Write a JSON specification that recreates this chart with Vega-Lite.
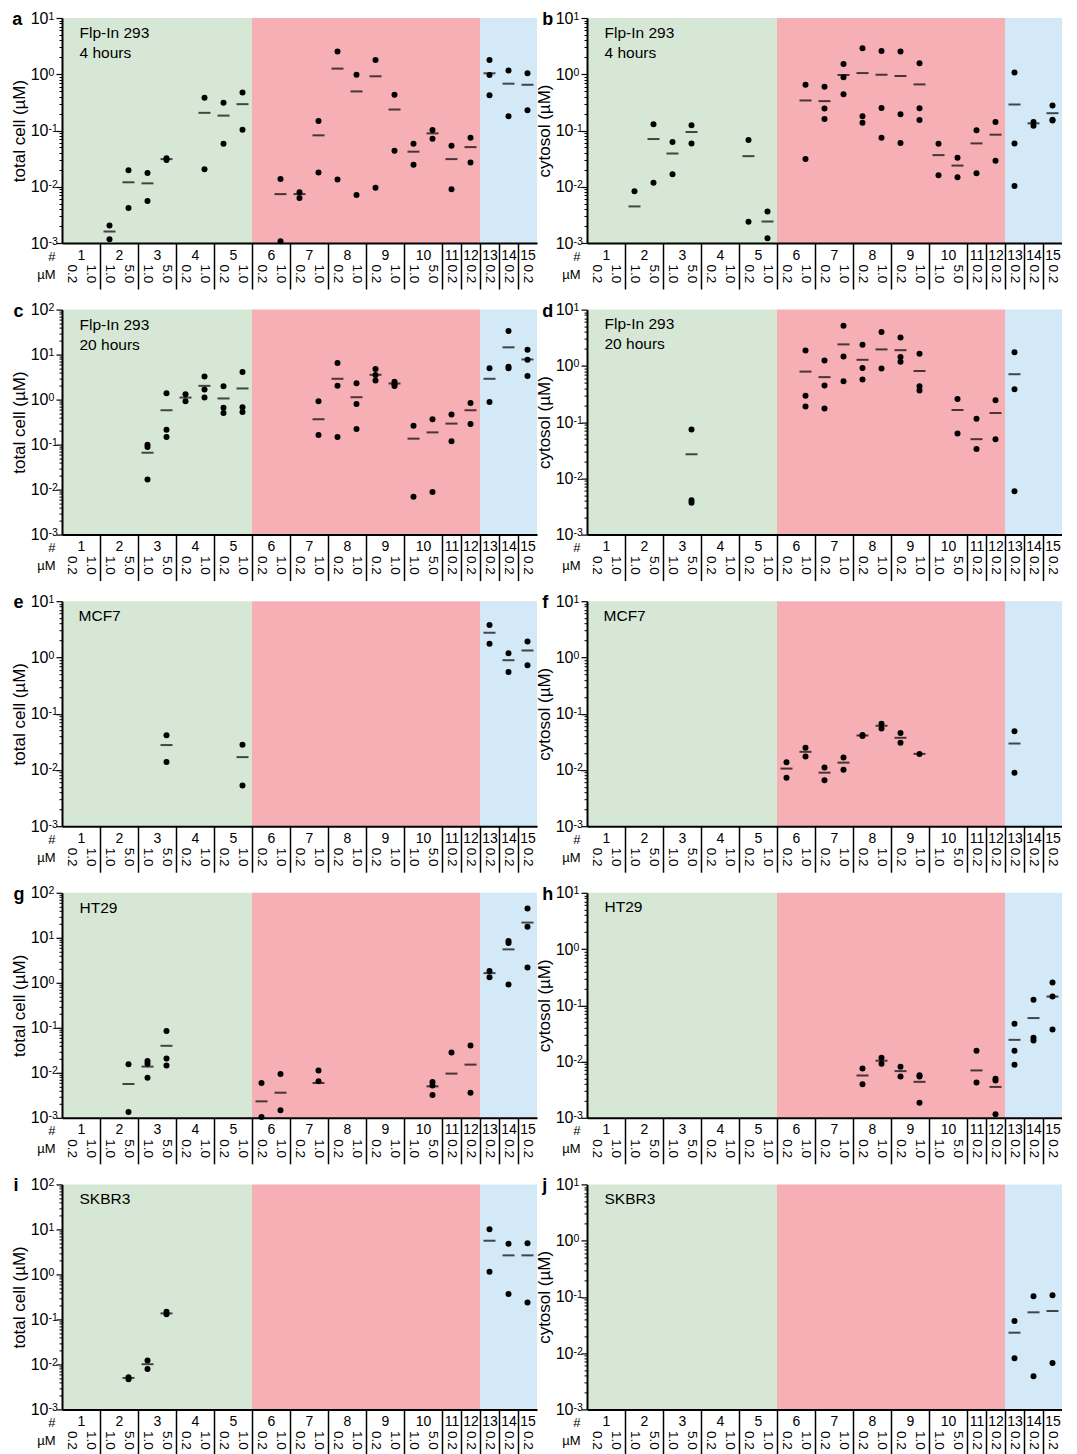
{
"$schema": "https://vega.github.io/schema/vega-lite/v6.json",
"padding": {"left": 10, "top": 10, "right": 0, "bottom": 0},
"config": {"font": "Liberation Sans", "view": {"stroke": null}},
"columns": 2,
"bounds": "flush",
"spacing": {"row": 66.6, "column": 50},
"datasets": {
"bg": [{"x0": -0.5, "x1": 9.5, "g": "A"}, {"x0": 9.5, "x1": 21.5, "g": "B"}, {"x0": 21.5, "x1": 24.5, "g": "C"}],
"dots": [
{"p":"a","s":2,"v":0.00204},{"p":"a","s":2,"v":0.00117},{"p":"a","s":3,"v":0.0197},{"p":"a","s":3,"v":0.0042},{"p":"a","s":4,"v":0.0176},{"p":"a","s":4,"v":0.0056},{"p":"a","s":5,"v":0.032},{"p":"a","s":5,"v":0.030},{"p":"a","s":7,"v":0.381},{"p":"a","s":7,"v":0.0205},{"p":"a","s":8,"v":0.31},{"p":"a","s":8,"v":0.058},{"p":"a","s":9,"v":0.475},{"p":"a","s":9,"v":0.1035},{"p":"a","s":11,"v":0.0138},{"p":"a","s":11,"v":0.00107},{"p":"a","s":12,"v":0.008},{"p":"a","s":12,"v":0.0063},{"p":"a","s":13,"v":0.148},{"p":"a","s":13,"v":0.018},{"p":"a","s":14,"v":2.54},{"p":"a","s":14,"v":0.0134},{"p":"a","s":15,"v":0.98},{"p":"a","s":15,"v":0.0071},{"p":"a","s":16,"v":1.8},{"p":"a","s":16,"v":0.0096},{"p":"a","s":17,"v":0.43},{"p":"a","s":17,"v":0.0436},{"p":"a","s":18,"v":0.058},{"p":"a","s":18,"v":0.0245},{"p":"a","s":19,"v":0.102},{"p":"a","s":19,"v":0.0714},{"p":"a","s":20,"v":0.0536},{"p":"a","s":20,"v":0.009},{"p":"a","s":21,"v":0.0745},{"p":"a","s":21,"v":0.027},{"p":"a","s":22,"v":1.8},{"p":"a","s":22,"v":0.97},{"p":"a","s":22,"v":0.425},{"p":"a","s":23,"v":1.16},{"p":"a","s":23,"v":0.179},{"p":"a","s":24,"v":1.04},{"p":"a","s":24,"v":0.23},
{"p":"b","s":2,"v":0.0083},{"p":"b","s":3,"v":0.129},{"p":"b","s":3,"v":0.0118},{"p":"b","s":4,"v":0.0622},{"p":"b","s":4,"v":0.0167},{"p":"b","s":5,"v":0.124},{"p":"b","s":5,"v":0.059},{"p":"b","s":8,"v":0.0676},{"p":"b","s":8,"v":0.00238},{"p":"b","s":9,"v":0.00363},{"p":"b","s":9,"v":0.00121},{"p":"b","s":11,"v":0.652},{"p":"b","s":11,"v":0.031},{"p":"b","s":12,"v":0.6},{"p":"b","s":12,"v":0.245},{"p":"b","s":12,"v":0.16},{"p":"b","s":13,"v":1.52},{"p":"b","s":13,"v":0.88},{"p":"b","s":13,"v":0.443},{"p":"b","s":14,"v":2.9},{"p":"b","s":14,"v":0.179},{"p":"b","s":14,"v":0.138},{"p":"b","s":15,"v":2.6},{"p":"b","s":15,"v":0.252},{"p":"b","s":15,"v":0.0745},{"p":"b","s":16,"v":2.54},{"p":"b","s":16,"v":0.195},{"p":"b","s":16,"v":0.0597},{"p":"b","s":17,"v":1.57},{"p":"b","s":17,"v":0.249},{"p":"b","s":17,"v":0.154},{"p":"b","s":18,"v":0.058},{"p":"b","s":18,"v":0.016},{"p":"b","s":19,"v":0.0327},{"p":"b","s":19,"v":0.0147},{"p":"b","s":20,"v":0.1007},{"p":"b","s":20,"v":0.0174},{"p":"b","s":21,"v":0.142},{"p":"b","s":21,"v":0.0289},{"p":"b","s":22,"v":1.07},{"p":"b","s":22,"v":0.059},{"p":"b","s":22,"v":0.0103},{"p":"b","s":23,"v":0.142},{"p":"b","s":23,"v":0.122},{"p":"b","s":24,"v":0.278},{"p":"b","s":24,"v":0.156},{"p":"b","s":24,"v":0.151},
{"p":"c","s":4,"v":0.0998},{"p":"c","s":4,"v":0.0885},{"p":"c","s":4,"v":0.0168},{"p":"c","s":5,"v":1.39},{"p":"c","s":5,"v":0.215},{"p":"c","s":5,"v":0.148},{"p":"c","s":6,"v":1.32},{"p":"c","s":6,"v":0.92},{"p":"c","s":7,"v":3.27},{"p":"c","s":7,"v":1.67},{"p":"c","s":7,"v":1.11},{"p":"c","s":8,"v":1.99},{"p":"c","s":8,"v":0.655},{"p":"c","s":8,"v":0.506},{"p":"c","s":9,"v":4.08},{"p":"c","s":9,"v":0.677},{"p":"c","s":9,"v":0.533},{"p":"c","s":13,"v":0.92},{"p":"c","s":13,"v":0.164},{"p":"c","s":14,"v":6.47},{"p":"c","s":14,"v":2.02},{"p":"c","s":14,"v":0.148},{"p":"c","s":15,"v":2.32},{"p":"c","s":15,"v":0.8},{"p":"c","s":15,"v":0.223},{"p":"c","s":16,"v":4.76},{"p":"c","s":16,"v":3.5},{"p":"c","s":16,"v":2.66},{"p":"c","s":17,"v":2.5},{"p":"c","s":17,"v":2.2},{"p":"c","s":17,"v":2.0},{"p":"c","s":18,"v":0.264},{"p":"c","s":18,"v":0.0069},{"p":"c","s":19,"v":0.366},{"p":"c","s":19,"v":0.0088},{"p":"c","s":20,"v":0.465},{"p":"c","s":20,"v":0.118},{"p":"c","s":21,"v":0.845},{"p":"c","s":21,"v":0.288},{"p":"c","s":22,"v":5.0},{"p":"c","s":22,"v":0.89},{"p":"c","s":23,"v":33.5},{"p":"c","s":23,"v":5.37},{"p":"c","s":23,"v":5.0},{"p":"c","s":24,"v":12.8},{"p":"c","s":24,"v":7.7},{"p":"c","s":24,"v":3.33},
{"p":"d","s":5,"v":0.074},{"p":"d","s":5,"v":0.0041},{"p":"d","s":5,"v":0.0037},{"p":"d","s":11,"v":1.88},{"p":"d","s":11,"v":0.295},{"p":"d","s":11,"v":0.19},{"p":"d","s":12,"v":1.24},{"p":"d","s":12,"v":0.446},{"p":"d","s":12,"v":0.175},{"p":"d","s":13,"v":5.18},{"p":"d","s":13,"v":1.47},{"p":"d","s":13,"v":0.532},{"p":"d","s":14,"v":2.37},{"p":"d","s":14,"v":0.92},{"p":"d","s":14,"v":0.57},{"p":"d","s":15,"v":3.99},{"p":"d","s":15,"v":0.895},{"p":"d","s":16,"v":3.2},{"p":"d","s":16,"v":1.43},{"p":"d","s":16,"v":1.18},{"p":"d","s":17,"v":1.64},{"p":"d","s":17,"v":0.434},{"p":"d","s":17,"v":0.363},{"p":"d","s":19,"v":0.258},{"p":"d","s":19,"v":0.0628},{"p":"d","s":20,"v":0.115},{"p":"d","s":20,"v":0.0334},{"p":"d","s":21,"v":0.244},{"p":"d","s":21,"v":0.0497},{"p":"d","s":22,"v":1.75},{"p":"d","s":22,"v":0.383},{"p":"d","s":22,"v":0.0059},
{"p":"e","s":5,"v":0.0412},{"p":"e","s":5,"v":0.0139},{"p":"e","s":9,"v":0.0281},{"p":"e","s":9,"v":0.0053},{"p":"e","s":22,"v":3.78},{"p":"e","s":22,"v":1.75},{"p":"e","s":23,"v":1.19},{"p":"e","s":23,"v":0.552},{"p":"e","s":24,"v":1.93},{"p":"e","s":24,"v":0.726},
{"p":"f","s":10,"v":0.0137},{"p":"f","s":10,"v":0.0073},{"p":"f","s":11,"v":0.0247},{"p":"f","s":11,"v":0.0173},{"p":"f","s":12,"v":0.011},{"p":"f","s":12,"v":0.00653},{"p":"f","s":13,"v":0.0166},{"p":"f","s":13,"v":0.0101},{"p":"f","s":14,"v":0.042},{"p":"f","s":14,"v":0.040},{"p":"f","s":15,"v":0.0663},{"p":"f","s":15,"v":0.0547},{"p":"f","s":16,"v":0.0452},{"p":"f","s":16,"v":0.0303},{"p":"f","s":17,"v":0.0193},{"p":"f","s":22,"v":0.049},{"p":"f","s":22,"v":0.00895},
{"p":"g","s":3,"v":0.0155},{"p":"g","s":3,"v":0.00134},{"p":"g","s":4,"v":0.0184},{"p":"g","s":4,"v":0.0158},{"p":"g","s":4,"v":0.0078},{"p":"g","s":5,"v":0.0845},{"p":"g","s":5,"v":0.0207},{"p":"g","s":5,"v":0.0145},{"p":"g","s":10,"v":0.0059},{"p":"g","s":10,"v":0.00104},{"p":"g","s":11,"v":0.0094},{"p":"g","s":11,"v":0.00148},{"p":"g","s":13,"v":0.0112},{"p":"g","s":13,"v":0.00647},{"p":"g","s":19,"v":0.00625},{"p":"g","s":19,"v":0.0052},{"p":"g","s":19,"v":0.0032},{"p":"g","s":20,"v":0.0283},{"p":"g","s":21,"v":0.0405},{"p":"g","s":21,"v":0.0036},{"p":"g","s":22,"v":1.84},{"p":"g","s":22,"v":1.33},{"p":"g","s":23,"v":8.5},{"p":"g","s":23,"v":7.66},{"p":"g","s":23,"v":0.914},{"p":"g","s":24,"v":44.7},{"p":"g","s":24,"v":17.7},{"p":"g","s":24,"v":2.19},
{"p":"h","s":14,"v":0.00755},{"p":"h","s":14,"v":0.00396},{"p":"h","s":15,"v":0.0117},{"p":"h","s":15,"v":0.0091},{"p":"h","s":16,"v":0.0081},{"p":"h","s":16,"v":0.00542},{"p":"h","s":17,"v":0.00573},{"p":"h","s":17,"v":0.0054},{"p":"h","s":17,"v":0.00186},{"p":"h","s":20,"v":0.0156},{"p":"h","s":20,"v":0.00424},{"p":"h","s":21,"v":0.00493},{"p":"h","s":21,"v":0.0046},{"p":"h","s":21,"v":0.00116},{"p":"h","s":22,"v":0.047},{"p":"h","s":22,"v":0.0156},{"p":"h","s":22,"v":0.00877},{"p":"h","s":23,"v":0.126},{"p":"h","s":23,"v":0.0264},{"p":"h","s":23,"v":0.0236},{"p":"h","s":24,"v":0.255},{"p":"h","s":24,"v":0.143},{"p":"h","s":24,"v":0.0372},
{"p":"i","s":3,"v":0.0052},{"p":"i","s":3,"v":0.0047},{"p":"i","s":4,"v":0.0122},{"p":"i","s":4,"v":0.0079},{"p":"i","s":5,"v":0.147},{"p":"i","s":5,"v":0.13},{"p":"i","s":22,"v":10.1},{"p":"i","s":22,"v":1.14},{"p":"i","s":23,"v":4.82},{"p":"i","s":23,"v":0.369},{"p":"i","s":24,"v":4.9},{"p":"i","s":24,"v":0.237},
{"p":"j","s":22,"v":0.0373},{"p":"j","s":22,"v":0.00815},{"p":"j","s":23,"v":0.1027},{"p":"j","s":23,"v":0.00388},{"p":"j","s":24,"v":0.107},{"p":"j","s":24,"v":0.0067}
],
"means": [
{"p":"a","s":2,"m":0.0016},{"p":"a","s":3,"m":0.012},{"p":"a","s":4,"m":0.0115},{"p":"a","s":5,"m":0.031},{"p":"a","s":7,"m":0.206},{"p":"a","s":8,"m":0.184},{"p":"a","s":9,"m":0.294},{"p":"a","s":11,"m":0.0074},{"p":"a","s":12,"m":0.0074},{"p":"a","s":13,"m":0.082},{"p":"a","s":14,"m":1.26},{"p":"a","s":15,"m":0.495},{"p":"a","s":16,"m":0.92},{"p":"a","s":17,"m":0.236},{"p":"a","s":18,"m":0.042},{"p":"a","s":19,"m":0.089},{"p":"a","s":20,"m":0.031},{"p":"a","s":21,"m":0.0507},{"p":"a","s":22,"m":1.04},{"p":"a","s":23,"m":0.68},{"p":"a","s":24,"m":0.65},
{"p":"b","s":2,"m":0.00447},{"p":"b","s":3,"m":0.0705},{"p":"b","s":4,"m":0.039},{"p":"b","s":5,"m":0.094},{"p":"b","s":8,"m":0.035},{"p":"b","s":9,"m":0.00241},{"p":"b","s":11,"m":0.342},{"p":"b","s":12,"m":0.333},{"p":"b","s":13,"m":0.97},{"p":"b","s":14,"m":1.05},{"p":"b","s":15,"m":0.98},{"p":"b","s":16,"m":0.93},{"p":"b","s":17,"m":0.66},{"p":"b","s":18,"m":0.0365},{"p":"b","s":19,"m":0.0238},{"p":"b","s":20,"m":0.059},{"p":"b","s":21,"m":0.0843},{"p":"b","s":22,"m":0.29},{"p":"b","s":23,"m":0.134},{"p":"b","s":24,"m":0.203},
{"p":"c","s":4,"m":0.066},{"p":"c","s":5,"m":0.58},{"p":"c","s":6,"m":1.11},{"p":"c","s":7,"m":2.02},{"p":"c","s":8,"m":1.06},{"p":"c","s":9,"m":1.77},{"p":"c","s":13,"m":0.366},{"p":"c","s":14,"m":2.9},{"p":"c","s":15,"m":1.13},{"p":"c","s":16,"m":3.56},{"p":"c","s":17,"m":2.28},{"p":"c","s":18,"m":0.1356},{"p":"c","s":19,"m":0.187},{"p":"c","s":20,"m":0.293},{"p":"c","s":21,"m":0.58},{"p":"c","s":22,"m":2.9},{"p":"c","s":23,"m":14.5},{"p":"c","s":24,"m":7.8},
{"p":"d","s":5,"m":0.0268},{"p":"d","s":11,"m":0.79},{"p":"d","s":12,"m":0.63},{"p":"d","s":13,"m":2.41},{"p":"d","s":14,"m":1.28},{"p":"d","s":15,"m":1.96},{"p":"d","s":16,"m":1.9},{"p":"d","s":17,"m":0.81},{"p":"d","s":19,"m":0.164},{"p":"d","s":20,"m":0.0497},{"p":"d","s":21,"m":0.145},{"p":"d","s":22,"m":0.71},
{"p":"e","s":5,"m":0.0277},{"p":"e","s":9,"m":0.0169},{"p":"e","s":22,"m":2.75},{"p":"e","s":23,"m":0.893},{"p":"e","s":24,"m":1.33},
{"p":"f","s":10,"m":0.01057},{"p":"f","s":11,"m":0.021},{"p":"f","s":12,"m":0.00895},{"p":"f","s":13,"m":0.0135},{"p":"f","s":14,"m":0.041},{"p":"f","s":15,"m":0.061},{"p":"f","s":16,"m":0.0373},{"p":"f","s":17,"m":0.0193},{"p":"f","s":22,"m":0.0295},
{"p":"g","s":3,"m":0.00564},{"p":"g","s":4,"m":0.01375},{"p":"g","s":5,"m":0.0398},{"p":"g","s":10,"m":0.00232},{"p":"g","s":11,"m":0.00361},{"p":"g","s":13,"m":0.00594},{"p":"g","s":19,"m":0.005},{"p":"g","s":20,"m":0.0096},{"p":"g","s":21,"m":0.0152},{"p":"g","s":22,"m":1.64},{"p":"g","s":23,"m":5.53},{"p":"g","s":24,"m":21.8},
{"p":"h","s":14,"m":0.00565},{"p":"h","s":15,"m":0.01035},{"p":"h","s":16,"m":0.00676},{"p":"h","s":17,"m":0.00436},{"p":"h","s":20,"m":0.00695},{"p":"h","s":21,"m":0.00354},{"p":"h","s":22,"m":0.0243},{"p":"h","s":23,"m":0.0593},{"p":"h","s":24,"m":0.143},
{"p":"i","s":3,"m":0.005},{"p":"i","s":4,"m":0.0101},{"p":"i","s":5,"m":0.136},{"p":"i","s":22,"m":5.6},{"p":"i","s":23,"m":2.65},{"p":"i","s":24,"m":2.65},
{"p":"j","s":22,"m":0.0231},{"p":"j","s":23,"m":0.0532},{"p":"j","s":24,"m":0.0562}
]
},
"concat": [
{"width":475,"height":225,"resolve":{"axis":{"x":"independent","y":"independent"}},
"layer":[
{"data":{"name":"bg"},"mark":{"type":"rect"},"encoding":{"x":{"field":"x0","type":"quantitative","scale":{"domain":[-0.5,24.5],"nice":false,"zero":false},"axis":{"orient":"bottom","values":[1.5,3.5,5.5,7.5,9.5,11.5,13.5,15.5,17.5,19.5,20.5,21.5,22.5,23.5],"labels":false,"ticks":true,"tickSize":46,"tickWidth":1.5,"tickColor":"black","domain":true,"domainColor":"black","domainWidth":2,"grid":false,"title":null,"offset":0,"zindex":1}},"x2":{"field":"x1"},"color":{"field":"g","type":"nominal","scale":{"domain":["A","B","C"],"range":["#d6e8d5","#f5afb5","#d3e9f7"]},"legend":null}}},
{"data":{"values":[{}]},"mark":{"type":"text","text":["Flp-In 293","4 hours"],"align":"left","baseline":"alphabetic","fontSize":15.5,"lineHeight":20,"color":"black"},"encoding":{"x":{"datum":0.42,"type":"quantitative","axis":null},"y":{"datum":4.5,"type":"quantitative","scale":{"type":"log","domain":[0.001,10],"nice":false},"axis":{"orient":"left","values":[0.001,0.01,0.1,1,10],"labelExpr":"datum.value==100?'2':datum.value==10?'1':datum.value==1?'0':datum.value==0.1?'-1':datum.value==0.01?'-2':'-3'","ticks":false,"domain":false,"grid":false,"title":null,"labelAlign":"left","labelBaseline":"alphabetic","labelOffset":1,"labelPadding":14,"labelFontSize":10.5,"labelColor":"black","labelOverlap":false,"labelBound":false,"labelFlush":false,"zindex":1,"offset":0}}}},
{"data":{"values":[{}]},"mark":{"type":"text","text":"a","align":"left","baseline":"alphabetic","fontSize":18,"fontWeight":"bold","color":"black"},"encoding":{"x":{"datum":-3.12,"type":"quantitative","axis":null},"y":{"datum":7.5,"type":"quantitative","axis":null}}},
{"data":{"name":"dots"},"transform":[{"filter":"datum.p=='a'"}],"mark":{"type":"point","shape":"circle","filled":true,"size":36,"color":"black","opacity":1},"encoding":{"x":{"field":"s","type":"quantitative","axis":{"orient":"bottom","values":[0.5,2.5,4.5,6.5,8.5,10.5,12.5,14.5,16.5,18.5,20,21,22,23,24],"labelExpr":"datum.value<19.9?''+(datum.value+1.5)/2:''+(datum.value-9)","ticks":false,"domain":false,"grid":false,"labelPadding":5,"labelFontSize":14,"labelColor":"black","labelOverlap":false,"labelFlush":false,"labelBound":false,"labelBaseline":"top","title":"#","titleAngle":0,"titleX":-7,"titleY":13,"titleAlign":"right","titleBaseline":"middle","titleFontSize":13,"titleFontWeight":"normal","titleColor":"black","offset":0}},"y":{"field":"v","type":"quantitative","axis":{"orient":"left","title":"total cell (µM)","values":[0.001,0.01,0.1,1,10],"labelExpr":"'10'","grid":false,"domain":true,"domainColor":"black","domainWidth":2,"tickColor":"black","tickWidth":1.2,"tickSize":6,"labelFontSize":16,"labelColor":"black","labelPadding":8,"labelOverlap":false,"labelBound":false,"labelFlush":false,"titleFontSize":17,"titleFontWeight":"normal","titleColor":"black","titlePadding":2,"zindex":1,"offset":0}}}},
{"data":{"name":"means"},"transform":[{"filter":"datum.p=='a'"}],"mark":{"type":"tick","orient":"horizontal","size":12,"thickness":2,"color":"black"},"encoding":{"x":{"field":"s","type":"quantitative","axis":{"orient":"bottom","values":[0,1,2,3,4,5,6,7,8,9,10,11,12,13,14,15,16,17,18,19,20,21,22,23,24],"labelExpr":"['0.2','1.0','1.0','5.0','1.0','5.0','0.2','1.0','0.2','1.0','0.2','1.0','0.2','1.0','0.2','1.0','0.2','1.0','1.0','5.0','0.2','0.2','0.2','0.2','0.2'][round(datum.value)]","ticks":false,"domain":false,"grid":false,"labelAngle":90,"labelAlign":"left","labelBaseline":"middle","labelPadding":21,"labelFontSize":13.5,"labelColor":"black","labelOverlap":false,"labelFlush":false,"labelBound":false,"title":"µM","titleAngle":0,"titleX":-7,"titleY":31,"titleAlign":"right","titleBaseline":"middle","titleFontSize":13,"titleFontWeight":"normal","titleColor":"black","offset":0}},"y":{"field":"m","type":"quantitative","axis":{"orient":"left","values":[0.002,0.003,0.004,0.005,0.006,0.007,0.008,0.009,0.02,0.03,0.04,0.05,0.06,0.07,0.08,0.09,0.2,0.3,0.4,0.5,0.6,0.7,0.8,0.9,2,3,4,5,6,7,8,9],"labels":false,"domain":false,"grid":false,"title":null,"tickColor":"black","tickWidth":1,"tickSize":3,"zindex":1,"offset":0}}}}
]},
{"width":475,"height":225,"resolve":{"axis":{"x":"independent","y":"independent"}},
"layer":[
{"data":{"name":"bg"},"mark":{"type":"rect"},"encoding":{"x":{"field":"x0","type":"quantitative","scale":{"domain":[-0.5,24.5],"nice":false,"zero":false},"axis":{"orient":"bottom","values":[1.5,3.5,5.5,7.5,9.5,11.5,13.5,15.5,17.5,19.5,20.5,21.5,22.5,23.5],"labels":false,"ticks":true,"tickSize":46,"tickWidth":1.5,"tickColor":"black","domain":true,"domainColor":"black","domainWidth":2,"grid":false,"title":null,"offset":0,"zindex":1}},"x2":{"field":"x1"},"color":{"field":"g","type":"nominal","scale":{"domain":["A","B","C"],"range":["#d6e8d5","#f5afb5","#d3e9f7"]},"legend":null}}},
{"data":{"values":[{}]},"mark":{"type":"text","text":["Flp-In 293","4 hours"],"align":"left","baseline":"alphabetic","fontSize":15.5,"lineHeight":20,"color":"black"},"encoding":{"x":{"datum":0.42,"type":"quantitative","axis":null},"y":{"datum":4.5,"type":"quantitative","scale":{"type":"log","domain":[0.001,10],"nice":false},"axis":{"orient":"left","values":[0.001,0.01,0.1,1,10],"labelExpr":"datum.value==100?'2':datum.value==10?'1':datum.value==1?'0':datum.value==0.1?'-1':datum.value==0.01?'-2':'-3'","ticks":false,"domain":false,"grid":false,"title":null,"labelAlign":"left","labelBaseline":"alphabetic","labelOffset":1,"labelPadding":14,"labelFontSize":10.5,"labelColor":"black","labelOverlap":false,"labelBound":false,"labelFlush":false,"zindex":1,"offset":0}}}},
{"data":{"values":[{}]},"mark":{"type":"text","text":"b","align":"left","baseline":"alphabetic","fontSize":18,"fontWeight":"bold","color":"black"},"encoding":{"x":{"datum":-2.85,"type":"quantitative","axis":null},"y":{"datum":7.5,"type":"quantitative","axis":null}}},
{"data":{"name":"dots"},"transform":[{"filter":"datum.p=='b'"}],"mark":{"type":"point","shape":"circle","filled":true,"size":36,"color":"black","opacity":1},"encoding":{"x":{"field":"s","type":"quantitative","axis":{"orient":"bottom","values":[0.5,2.5,4.5,6.5,8.5,10.5,12.5,14.5,16.5,18.5,20,21,22,23,24],"labelExpr":"datum.value<19.9?''+(datum.value+1.5)/2:''+(datum.value-9)","ticks":false,"domain":false,"grid":false,"labelPadding":5,"labelFontSize":14,"labelColor":"black","labelOverlap":false,"labelFlush":false,"labelBound":false,"labelBaseline":"top","title":"#","titleAngle":0,"titleX":-7,"titleY":13,"titleAlign":"right","titleBaseline":"middle","titleFontSize":13,"titleFontWeight":"normal","titleColor":"black","offset":0}},"y":{"field":"v","type":"quantitative","axis":{"orient":"left","title":"cytosol (µM)","values":[0.001,0.01,0.1,1,10],"labelExpr":"'10'","grid":false,"domain":true,"domainColor":"black","domainWidth":2,"tickColor":"black","tickWidth":1.2,"tickSize":6,"labelFontSize":16,"labelColor":"black","labelPadding":8,"labelOverlap":false,"labelBound":false,"labelFlush":false,"titleFontSize":17,"titleFontWeight":"normal","titleColor":"black","titlePadding":2,"zindex":1,"offset":0}}}},
{"data":{"name":"means"},"transform":[{"filter":"datum.p=='b'"}],"mark":{"type":"tick","orient":"horizontal","size":12,"thickness":2,"color":"black"},"encoding":{"x":{"field":"s","type":"quantitative","axis":{"orient":"bottom","values":[0,1,2,3,4,5,6,7,8,9,10,11,12,13,14,15,16,17,18,19,20,21,22,23,24],"labelExpr":"['0.2','1.0','1.0','5.0','1.0','5.0','0.2','1.0','0.2','1.0','0.2','1.0','0.2','1.0','0.2','1.0','0.2','1.0','1.0','5.0','0.2','0.2','0.2','0.2','0.2'][round(datum.value)]","ticks":false,"domain":false,"grid":false,"labelAngle":90,"labelAlign":"left","labelBaseline":"middle","labelPadding":21,"labelFontSize":13.5,"labelColor":"black","labelOverlap":false,"labelFlush":false,"labelBound":false,"title":"µM","titleAngle":0,"titleX":-7,"titleY":31,"titleAlign":"right","titleBaseline":"middle","titleFontSize":13,"titleFontWeight":"normal","titleColor":"black","offset":0}},"y":{"field":"m","type":"quantitative","axis":{"orient":"left","values":[0.002,0.003,0.004,0.005,0.006,0.007,0.008,0.009,0.02,0.03,0.04,0.05,0.06,0.07,0.08,0.09,0.2,0.3,0.4,0.5,0.6,0.7,0.8,0.9,2,3,4,5,6,7,8,9],"labels":false,"domain":false,"grid":false,"title":null,"tickColor":"black","tickWidth":1,"tickSize":3,"zindex":1,"offset":0}}}}
]},
{"width":475,"height":225,"resolve":{"axis":{"x":"independent","y":"independent"}},
"layer":[
{"data":{"name":"bg"},"mark":{"type":"rect"},"encoding":{"x":{"field":"x0","type":"quantitative","scale":{"domain":[-0.5,24.5],"nice":false,"zero":false},"axis":{"orient":"bottom","values":[1.5,3.5,5.5,7.5,9.5,11.5,13.5,15.5,17.5,19.5,20.5,21.5,22.5,23.5],"labels":false,"ticks":true,"tickSize":46,"tickWidth":1.5,"tickColor":"black","domain":true,"domainColor":"black","domainWidth":2,"grid":false,"title":null,"offset":0,"zindex":1}},"x2":{"field":"x1"},"color":{"field":"g","type":"nominal","scale":{"domain":["A","B","C"],"range":["#d6e8d5","#f5afb5","#d3e9f7"]},"legend":null}}},
{"data":{"values":[{}]},"mark":{"type":"text","text":["Flp-In 293","20 hours"],"align":"left","baseline":"alphabetic","fontSize":15.5,"lineHeight":20,"color":"black"},"encoding":{"x":{"datum":0.42,"type":"quantitative","axis":null},"y":{"datum":36,"type":"quantitative","scale":{"type":"log","domain":[0.001,100],"nice":false},"axis":{"orient":"left","values":[0.001,0.01,0.1,1,10,100],"labelExpr":"datum.value==100?'2':datum.value==10?'1':datum.value==1?'0':datum.value==0.1?'-1':datum.value==0.01?'-2':'-3'","ticks":false,"domain":false,"grid":false,"title":null,"labelAlign":"left","labelBaseline":"alphabetic","labelOffset":1,"labelPadding":14,"labelFontSize":10.5,"labelColor":"black","labelOverlap":false,"labelBound":false,"labelFlush":false,"zindex":1,"offset":0}}}},
{"data":{"values":[{}]},"mark":{"type":"text","text":"c","align":"left","baseline":"alphabetic","fontSize":18,"fontWeight":"bold","color":"black"},"encoding":{"x":{"datum":-3.05,"type":"quantitative","axis":null},"y":{"datum":70,"type":"quantitative","axis":null}}},
{"data":{"name":"dots"},"transform":[{"filter":"datum.p=='c'"}],"mark":{"type":"point","shape":"circle","filled":true,"size":36,"color":"black","opacity":1},"encoding":{"x":{"field":"s","type":"quantitative","axis":{"orient":"bottom","values":[0.5,2.5,4.5,6.5,8.5,10.5,12.5,14.5,16.5,18.5,20,21,22,23,24],"labelExpr":"datum.value<19.9?''+(datum.value+1.5)/2:''+(datum.value-9)","ticks":false,"domain":false,"grid":false,"labelPadding":5,"labelFontSize":14,"labelColor":"black","labelOverlap":false,"labelFlush":false,"labelBound":false,"labelBaseline":"top","title":"#","titleAngle":0,"titleX":-7,"titleY":13,"titleAlign":"right","titleBaseline":"middle","titleFontSize":13,"titleFontWeight":"normal","titleColor":"black","offset":0}},"y":{"field":"v","type":"quantitative","axis":{"orient":"left","title":"total cell (µM)","values":[0.001,0.01,0.1,1,10,100],"labelExpr":"'10'","grid":false,"domain":true,"domainColor":"black","domainWidth":2,"tickColor":"black","tickWidth":1.2,"tickSize":6,"labelFontSize":16,"labelColor":"black","labelPadding":8,"labelOverlap":false,"labelBound":false,"labelFlush":false,"titleFontSize":17,"titleFontWeight":"normal","titleColor":"black","titlePadding":2,"zindex":1,"offset":0}}}},
{"data":{"name":"means"},"transform":[{"filter":"datum.p=='c'"}],"mark":{"type":"tick","orient":"horizontal","size":12,"thickness":2,"color":"black"},"encoding":{"x":{"field":"s","type":"quantitative","axis":{"orient":"bottom","values":[0,1,2,3,4,5,6,7,8,9,10,11,12,13,14,15,16,17,18,19,20,21,22,23,24],"labelExpr":"['0.2','1.0','1.0','5.0','1.0','5.0','0.2','1.0','0.2','1.0','0.2','1.0','0.2','1.0','0.2','1.0','0.2','1.0','1.0','5.0','0.2','0.2','0.2','0.2','0.2'][round(datum.value)]","ticks":false,"domain":false,"grid":false,"labelAngle":90,"labelAlign":"left","labelBaseline":"middle","labelPadding":21,"labelFontSize":13.5,"labelColor":"black","labelOverlap":false,"labelFlush":false,"labelBound":false,"title":"µM","titleAngle":0,"titleX":-7,"titleY":31,"titleAlign":"right","titleBaseline":"middle","titleFontSize":13,"titleFontWeight":"normal","titleColor":"black","offset":0}},"y":{"field":"m","type":"quantitative","axis":{"orient":"left","values":[0.002,0.003,0.004,0.005,0.006,0.007,0.008,0.009,0.02,0.03,0.04,0.05,0.06,0.07,0.08,0.09,0.2,0.3,0.4,0.5,0.6,0.7,0.8,0.9,2,3,4,5,6,7,8,9,20,30,40,50,60,70,80,90],"labels":false,"domain":false,"grid":false,"title":null,"tickColor":"black","tickWidth":1,"tickSize":3,"zindex":1,"offset":0}}}}
]},
{"width":475,"height":225,"resolve":{"axis":{"x":"independent","y":"independent"}},
"layer":[
{"data":{"name":"bg"},"mark":{"type":"rect"},"encoding":{"x":{"field":"x0","type":"quantitative","scale":{"domain":[-0.5,24.5],"nice":false,"zero":false},"axis":{"orient":"bottom","values":[1.5,3.5,5.5,7.5,9.5,11.5,13.5,15.5,17.5,19.5,20.5,21.5,22.5,23.5],"labels":false,"ticks":true,"tickSize":46,"tickWidth":1.5,"tickColor":"black","domain":true,"domainColor":"black","domainWidth":2,"grid":false,"title":null,"offset":0,"zindex":1}},"x2":{"field":"x1"},"color":{"field":"g","type":"nominal","scale":{"domain":["A","B","C"],"range":["#d6e8d5","#f5afb5","#d3e9f7"]},"legend":null}}},
{"data":{"values":[{}]},"mark":{"type":"text","text":["Flp-In 293","20 hours"],"align":"left","baseline":"alphabetic","fontSize":15.5,"lineHeight":20,"color":"black"},"encoding":{"x":{"datum":0.42,"type":"quantitative","axis":null},"y":{"datum":4.5,"type":"quantitative","scale":{"type":"log","domain":[0.001,10],"nice":false},"axis":{"orient":"left","values":[0.001,0.01,0.1,1,10],"labelExpr":"datum.value==100?'2':datum.value==10?'1':datum.value==1?'0':datum.value==0.1?'-1':datum.value==0.01?'-2':'-3'","ticks":false,"domain":false,"grid":false,"title":null,"labelAlign":"left","labelBaseline":"alphabetic","labelOffset":1,"labelPadding":14,"labelFontSize":10.5,"labelColor":"black","labelOverlap":false,"labelBound":false,"labelFlush":false,"zindex":1,"offset":0}}}},
{"data":{"values":[{}]},"mark":{"type":"text","text":"d","align":"left","baseline":"alphabetic","fontSize":18,"fontWeight":"bold","color":"black"},"encoding":{"x":{"datum":-2.85,"type":"quantitative","axis":null},"y":{"datum":7.5,"type":"quantitative","axis":null}}},
{"data":{"name":"dots"},"transform":[{"filter":"datum.p=='d'"}],"mark":{"type":"point","shape":"circle","filled":true,"size":36,"color":"black","opacity":1},"encoding":{"x":{"field":"s","type":"quantitative","axis":{"orient":"bottom","values":[0.5,2.5,4.5,6.5,8.5,10.5,12.5,14.5,16.5,18.5,20,21,22,23,24],"labelExpr":"datum.value<19.9?''+(datum.value+1.5)/2:''+(datum.value-9)","ticks":false,"domain":false,"grid":false,"labelPadding":5,"labelFontSize":14,"labelColor":"black","labelOverlap":false,"labelFlush":false,"labelBound":false,"labelBaseline":"top","title":"#","titleAngle":0,"titleX":-7,"titleY":13,"titleAlign":"right","titleBaseline":"middle","titleFontSize":13,"titleFontWeight":"normal","titleColor":"black","offset":0}},"y":{"field":"v","type":"quantitative","axis":{"orient":"left","title":"cytosol (µM)","values":[0.001,0.01,0.1,1,10],"labelExpr":"'10'","grid":false,"domain":true,"domainColor":"black","domainWidth":2,"tickColor":"black","tickWidth":1.2,"tickSize":6,"labelFontSize":16,"labelColor":"black","labelPadding":8,"labelOverlap":false,"labelBound":false,"labelFlush":false,"titleFontSize":17,"titleFontWeight":"normal","titleColor":"black","titlePadding":2,"zindex":1,"offset":0}}}},
{"data":{"name":"means"},"transform":[{"filter":"datum.p=='d'"}],"mark":{"type":"tick","orient":"horizontal","size":12,"thickness":2,"color":"black"},"encoding":{"x":{"field":"s","type":"quantitative","axis":{"orient":"bottom","values":[0,1,2,3,4,5,6,7,8,9,10,11,12,13,14,15,16,17,18,19,20,21,22,23,24],"labelExpr":"['0.2','1.0','1.0','5.0','1.0','5.0','0.2','1.0','0.2','1.0','0.2','1.0','0.2','1.0','0.2','1.0','0.2','1.0','1.0','5.0','0.2','0.2','0.2','0.2','0.2'][round(datum.value)]","ticks":false,"domain":false,"grid":false,"labelAngle":90,"labelAlign":"left","labelBaseline":"middle","labelPadding":21,"labelFontSize":13.5,"labelColor":"black","labelOverlap":false,"labelFlush":false,"labelBound":false,"title":"µM","titleAngle":0,"titleX":-7,"titleY":31,"titleAlign":"right","titleBaseline":"middle","titleFontSize":13,"titleFontWeight":"normal","titleColor":"black","offset":0}},"y":{"field":"m","type":"quantitative","axis":{"orient":"left","values":[0.002,0.003,0.004,0.005,0.006,0.007,0.008,0.009,0.02,0.03,0.04,0.05,0.06,0.07,0.08,0.09,0.2,0.3,0.4,0.5,0.6,0.7,0.8,0.9,2,3,4,5,6,7,8,9],"labels":false,"domain":false,"grid":false,"title":null,"tickColor":"black","tickWidth":1,"tickSize":3,"zindex":1,"offset":0}}}}
]},
{"width":475,"height":225,"resolve":{"axis":{"x":"independent","y":"independent"}},
"layer":[
{"data":{"name":"bg"},"mark":{"type":"rect"},"encoding":{"x":{"field":"x0","type":"quantitative","scale":{"domain":[-0.5,24.5],"nice":false,"zero":false},"axis":{"orient":"bottom","values":[1.5,3.5,5.5,7.5,9.5,11.5,13.5,15.5,17.5,19.5,20.5,21.5,22.5,23.5],"labels":false,"ticks":true,"tickSize":46,"tickWidth":1.5,"tickColor":"black","domain":true,"domainColor":"black","domainWidth":2,"grid":false,"title":null,"offset":0,"zindex":1}},"x2":{"field":"x1"},"color":{"field":"g","type":"nominal","scale":{"domain":["A","B","C"],"range":["#d6e8d5","#f5afb5","#d3e9f7"]},"legend":null}}},
{"data":{"values":[{}]},"mark":{"type":"text","text":"MCF7","align":"left","baseline":"alphabetic","fontSize":15.5,"lineHeight":20,"color":"black"},"encoding":{"x":{"datum":0.37,"type":"quantitative","axis":null},"y":{"datum":4.5,"type":"quantitative","scale":{"type":"log","domain":[0.001,10],"nice":false},"axis":{"orient":"left","values":[0.001,0.01,0.1,1,10],"labelExpr":"datum.value==100?'2':datum.value==10?'1':datum.value==1?'0':datum.value==0.1?'-1':datum.value==0.01?'-2':'-3'","ticks":false,"domain":false,"grid":false,"title":null,"labelAlign":"left","labelBaseline":"alphabetic","labelOffset":1,"labelPadding":14,"labelFontSize":10.5,"labelColor":"black","labelOverlap":false,"labelBound":false,"labelFlush":false,"zindex":1,"offset":0}}}},
{"data":{"values":[{}]},"mark":{"type":"text","text":"e","align":"left","baseline":"alphabetic","fontSize":18,"fontWeight":"bold","color":"black"},"encoding":{"x":{"datum":-3.05,"type":"quantitative","axis":null},"y":{"datum":7.5,"type":"quantitative","axis":null}}},
{"data":{"name":"dots"},"transform":[{"filter":"datum.p=='e'"}],"mark":{"type":"point","shape":"circle","filled":true,"size":36,"color":"black","opacity":1},"encoding":{"x":{"field":"s","type":"quantitative","axis":{"orient":"bottom","values":[0.5,2.5,4.5,6.5,8.5,10.5,12.5,14.5,16.5,18.5,20,21,22,23,24],"labelExpr":"datum.value<19.9?''+(datum.value+1.5)/2:''+(datum.value-9)","ticks":false,"domain":false,"grid":false,"labelPadding":5,"labelFontSize":14,"labelColor":"black","labelOverlap":false,"labelFlush":false,"labelBound":false,"labelBaseline":"top","title":"#","titleAngle":0,"titleX":-7,"titleY":13,"titleAlign":"right","titleBaseline":"middle","titleFontSize":13,"titleFontWeight":"normal","titleColor":"black","offset":0}},"y":{"field":"v","type":"quantitative","axis":{"orient":"left","title":"total cell (µM)","values":[0.001,0.01,0.1,1,10],"labelExpr":"'10'","grid":false,"domain":true,"domainColor":"black","domainWidth":2,"tickColor":"black","tickWidth":1.2,"tickSize":6,"labelFontSize":16,"labelColor":"black","labelPadding":8,"labelOverlap":false,"labelBound":false,"labelFlush":false,"titleFontSize":17,"titleFontWeight":"normal","titleColor":"black","titlePadding":2,"zindex":1,"offset":0}}}},
{"data":{"name":"means"},"transform":[{"filter":"datum.p=='e'"}],"mark":{"type":"tick","orient":"horizontal","size":12,"thickness":2,"color":"black"},"encoding":{"x":{"field":"s","type":"quantitative","axis":{"orient":"bottom","values":[0,1,2,3,4,5,6,7,8,9,10,11,12,13,14,15,16,17,18,19,20,21,22,23,24],"labelExpr":"['0.2','1.0','1.0','5.0','1.0','5.0','0.2','1.0','0.2','1.0','0.2','1.0','0.2','1.0','0.2','1.0','0.2','1.0','1.0','5.0','0.2','0.2','0.2','0.2','0.2'][round(datum.value)]","ticks":false,"domain":false,"grid":false,"labelAngle":90,"labelAlign":"left","labelBaseline":"middle","labelPadding":21,"labelFontSize":13.5,"labelColor":"black","labelOverlap":false,"labelFlush":false,"labelBound":false,"title":"µM","titleAngle":0,"titleX":-7,"titleY":31,"titleAlign":"right","titleBaseline":"middle","titleFontSize":13,"titleFontWeight":"normal","titleColor":"black","offset":0}},"y":{"field":"m","type":"quantitative","axis":{"orient":"left","values":[0.002,0.003,0.004,0.005,0.006,0.007,0.008,0.009,0.02,0.03,0.04,0.05,0.06,0.07,0.08,0.09,0.2,0.3,0.4,0.5,0.6,0.7,0.8,0.9,2,3,4,5,6,7,8,9],"labels":false,"domain":false,"grid":false,"title":null,"tickColor":"black","tickWidth":1,"tickSize":3,"zindex":1,"offset":0}}}}
]},
{"width":475,"height":225,"resolve":{"axis":{"x":"independent","y":"independent"}},
"layer":[
{"data":{"name":"bg"},"mark":{"type":"rect"},"encoding":{"x":{"field":"x0","type":"quantitative","scale":{"domain":[-0.5,24.5],"nice":false,"zero":false},"axis":{"orient":"bottom","values":[1.5,3.5,5.5,7.5,9.5,11.5,13.5,15.5,17.5,19.5,20.5,21.5,22.5,23.5],"labels":false,"ticks":true,"tickSize":46,"tickWidth":1.5,"tickColor":"black","domain":true,"domainColor":"black","domainWidth":2,"grid":false,"title":null,"offset":0,"zindex":1}},"x2":{"field":"x1"},"color":{"field":"g","type":"nominal","scale":{"domain":["A","B","C"],"range":["#d6e8d5","#f5afb5","#d3e9f7"]},"legend":null}}},
{"data":{"values":[{}]},"mark":{"type":"text","text":"MCF7","align":"left","baseline":"alphabetic","fontSize":15.5,"lineHeight":20,"color":"black"},"encoding":{"x":{"datum":0.37,"type":"quantitative","axis":null},"y":{"datum":4.5,"type":"quantitative","scale":{"type":"log","domain":[0.001,10],"nice":false},"axis":{"orient":"left","values":[0.001,0.01,0.1,1,10],"labelExpr":"datum.value==100?'2':datum.value==10?'1':datum.value==1?'0':datum.value==0.1?'-1':datum.value==0.01?'-2':'-3'","ticks":false,"domain":false,"grid":false,"title":null,"labelAlign":"left","labelBaseline":"alphabetic","labelOffset":1,"labelPadding":14,"labelFontSize":10.5,"labelColor":"black","labelOverlap":false,"labelBound":false,"labelFlush":false,"zindex":1,"offset":0}}}},
{"data":{"values":[{}]},"mark":{"type":"text","text":"f","align":"left","baseline":"alphabetic","fontSize":18,"fontWeight":"bold","color":"black"},"encoding":{"x":{"datum":-2.85,"type":"quantitative","axis":null},"y":{"datum":7.5,"type":"quantitative","axis":null}}},
{"data":{"name":"dots"},"transform":[{"filter":"datum.p=='f'"}],"mark":{"type":"point","shape":"circle","filled":true,"size":36,"color":"black","opacity":1},"encoding":{"x":{"field":"s","type":"quantitative","axis":{"orient":"bottom","values":[0.5,2.5,4.5,6.5,8.5,10.5,12.5,14.5,16.5,18.5,20,21,22,23,24],"labelExpr":"datum.value<19.9?''+(datum.value+1.5)/2:''+(datum.value-9)","ticks":false,"domain":false,"grid":false,"labelPadding":5,"labelFontSize":14,"labelColor":"black","labelOverlap":false,"labelFlush":false,"labelBound":false,"labelBaseline":"top","title":"#","titleAngle":0,"titleX":-7,"titleY":13,"titleAlign":"right","titleBaseline":"middle","titleFontSize":13,"titleFontWeight":"normal","titleColor":"black","offset":0}},"y":{"field":"v","type":"quantitative","axis":{"orient":"left","title":"cytosol (µM)","values":[0.001,0.01,0.1,1,10],"labelExpr":"'10'","grid":false,"domain":true,"domainColor":"black","domainWidth":2,"tickColor":"black","tickWidth":1.2,"tickSize":6,"labelFontSize":16,"labelColor":"black","labelPadding":8,"labelOverlap":false,"labelBound":false,"labelFlush":false,"titleFontSize":17,"titleFontWeight":"normal","titleColor":"black","titlePadding":2,"zindex":1,"offset":0}}}},
{"data":{"name":"means"},"transform":[{"filter":"datum.p=='f'"}],"mark":{"type":"tick","orient":"horizontal","size":12,"thickness":2,"color":"black"},"encoding":{"x":{"field":"s","type":"quantitative","axis":{"orient":"bottom","values":[0,1,2,3,4,5,6,7,8,9,10,11,12,13,14,15,16,17,18,19,20,21,22,23,24],"labelExpr":"['0.2','1.0','1.0','5.0','1.0','5.0','0.2','1.0','0.2','1.0','0.2','1.0','0.2','1.0','0.2','1.0','0.2','1.0','1.0','5.0','0.2','0.2','0.2','0.2','0.2'][round(datum.value)]","ticks":false,"domain":false,"grid":false,"labelAngle":90,"labelAlign":"left","labelBaseline":"middle","labelPadding":21,"labelFontSize":13.5,"labelColor":"black","labelOverlap":false,"labelFlush":false,"labelBound":false,"title":"µM","titleAngle":0,"titleX":-7,"titleY":31,"titleAlign":"right","titleBaseline":"middle","titleFontSize":13,"titleFontWeight":"normal","titleColor":"black","offset":0}},"y":{"field":"m","type":"quantitative","axis":{"orient":"left","values":[0.002,0.003,0.004,0.005,0.006,0.007,0.008,0.009,0.02,0.03,0.04,0.05,0.06,0.07,0.08,0.09,0.2,0.3,0.4,0.5,0.6,0.7,0.8,0.9,2,3,4,5,6,7,8,9],"labels":false,"domain":false,"grid":false,"title":null,"tickColor":"black","tickWidth":1,"tickSize":3,"zindex":1,"offset":0}}}}
]},
{"width":475,"height":225,"resolve":{"axis":{"x":"independent","y":"independent"}},
"layer":[
{"data":{"name":"bg"},"mark":{"type":"rect"},"encoding":{"x":{"field":"x0","type":"quantitative","scale":{"domain":[-0.5,24.5],"nice":false,"zero":false},"axis":{"orient":"bottom","values":[1.5,3.5,5.5,7.5,9.5,11.5,13.5,15.5,17.5,19.5,20.5,21.5,22.5,23.5],"labels":false,"ticks":true,"tickSize":46,"tickWidth":1.5,"tickColor":"black","domain":true,"domainColor":"black","domainWidth":2,"grid":false,"title":null,"offset":0,"zindex":1}},"x2":{"field":"x1"},"color":{"field":"g","type":"nominal","scale":{"domain":["A","B","C"],"range":["#d6e8d5","#f5afb5","#d3e9f7"]},"legend":null}}},
{"data":{"values":[{}]},"mark":{"type":"text","text":"HT29","align":"left","baseline":"alphabetic","fontSize":15.5,"lineHeight":20,"color":"black"},"encoding":{"x":{"datum":0.42,"type":"quantitative","axis":null},"y":{"datum":36,"type":"quantitative","scale":{"type":"log","domain":[0.001,100],"nice":false},"axis":{"orient":"left","values":[0.001,0.01,0.1,1,10,100],"labelExpr":"datum.value==100?'2':datum.value==10?'1':datum.value==1?'0':datum.value==0.1?'-1':datum.value==0.01?'-2':'-3'","ticks":false,"domain":false,"grid":false,"title":null,"labelAlign":"left","labelBaseline":"alphabetic","labelOffset":1,"labelPadding":14,"labelFontSize":10.5,"labelColor":"black","labelOverlap":false,"labelBound":false,"labelFlush":false,"zindex":1,"offset":0}}}},
{"data":{"values":[{}]},"mark":{"type":"text","text":"g","align":"left","baseline":"alphabetic","fontSize":18,"fontWeight":"bold","color":"black"},"encoding":{"x":{"datum":-3.05,"type":"quantitative","axis":null},"y":{"datum":70,"type":"quantitative","axis":null}}},
{"data":{"name":"dots"},"transform":[{"filter":"datum.p=='g'"}],"mark":{"type":"point","shape":"circle","filled":true,"size":36,"color":"black","opacity":1},"encoding":{"x":{"field":"s","type":"quantitative","axis":{"orient":"bottom","values":[0.5,2.5,4.5,6.5,8.5,10.5,12.5,14.5,16.5,18.5,20,21,22,23,24],"labelExpr":"datum.value<19.9?''+(datum.value+1.5)/2:''+(datum.value-9)","ticks":false,"domain":false,"grid":false,"labelPadding":5,"labelFontSize":14,"labelColor":"black","labelOverlap":false,"labelFlush":false,"labelBound":false,"labelBaseline":"top","title":"#","titleAngle":0,"titleX":-7,"titleY":13,"titleAlign":"right","titleBaseline":"middle","titleFontSize":13,"titleFontWeight":"normal","titleColor":"black","offset":0}},"y":{"field":"v","type":"quantitative","axis":{"orient":"left","title":"total cell (µM)","values":[0.001,0.01,0.1,1,10,100],"labelExpr":"'10'","grid":false,"domain":true,"domainColor":"black","domainWidth":2,"tickColor":"black","tickWidth":1.2,"tickSize":6,"labelFontSize":16,"labelColor":"black","labelPadding":8,"labelOverlap":false,"labelBound":false,"labelFlush":false,"titleFontSize":17,"titleFontWeight":"normal","titleColor":"black","titlePadding":2,"zindex":1,"offset":0}}}},
{"data":{"name":"means"},"transform":[{"filter":"datum.p=='g'"}],"mark":{"type":"tick","orient":"horizontal","size":12,"thickness":2,"color":"black"},"encoding":{"x":{"field":"s","type":"quantitative","axis":{"orient":"bottom","values":[0,1,2,3,4,5,6,7,8,9,10,11,12,13,14,15,16,17,18,19,20,21,22,23,24],"labelExpr":"['0.2','1.0','1.0','5.0','1.0','5.0','0.2','1.0','0.2','1.0','0.2','1.0','0.2','1.0','0.2','1.0','0.2','1.0','1.0','5.0','0.2','0.2','0.2','0.2','0.2'][round(datum.value)]","ticks":false,"domain":false,"grid":false,"labelAngle":90,"labelAlign":"left","labelBaseline":"middle","labelPadding":21,"labelFontSize":13.5,"labelColor":"black","labelOverlap":false,"labelFlush":false,"labelBound":false,"title":"µM","titleAngle":0,"titleX":-7,"titleY":31,"titleAlign":"right","titleBaseline":"middle","titleFontSize":13,"titleFontWeight":"normal","titleColor":"black","offset":0}},"y":{"field":"m","type":"quantitative","axis":{"orient":"left","values":[0.002,0.003,0.004,0.005,0.006,0.007,0.008,0.009,0.02,0.03,0.04,0.05,0.06,0.07,0.08,0.09,0.2,0.3,0.4,0.5,0.6,0.7,0.8,0.9,2,3,4,5,6,7,8,9,20,30,40,50,60,70,80,90],"labels":false,"domain":false,"grid":false,"title":null,"tickColor":"black","tickWidth":1,"tickSize":3,"zindex":1,"offset":0}}}}
]},
{"width":475,"height":225,"resolve":{"axis":{"x":"independent","y":"independent"}},
"layer":[
{"data":{"name":"bg"},"mark":{"type":"rect"},"encoding":{"x":{"field":"x0","type":"quantitative","scale":{"domain":[-0.5,24.5],"nice":false,"zero":false},"axis":{"orient":"bottom","values":[1.5,3.5,5.5,7.5,9.5,11.5,13.5,15.5,17.5,19.5,20.5,21.5,22.5,23.5],"labels":false,"ticks":true,"tickSize":46,"tickWidth":1.5,"tickColor":"black","domain":true,"domainColor":"black","domainWidth":2,"grid":false,"title":null,"offset":0,"zindex":1}},"x2":{"field":"x1"},"color":{"field":"g","type":"nominal","scale":{"domain":["A","B","C"],"range":["#d6e8d5","#f5afb5","#d3e9f7"]},"legend":null}}},
{"data":{"values":[{}]},"mark":{"type":"text","text":"HT29","align":"left","baseline":"alphabetic","fontSize":15.5,"lineHeight":20,"color":"black"},"encoding":{"x":{"datum":0.42,"type":"quantitative","axis":null},"y":{"datum":4.5,"type":"quantitative","scale":{"type":"log","domain":[0.001,10],"nice":false},"axis":{"orient":"left","values":[0.001,0.01,0.1,1,10],"labelExpr":"datum.value==100?'2':datum.value==10?'1':datum.value==1?'0':datum.value==0.1?'-1':datum.value==0.01?'-2':'-3'","ticks":false,"domain":false,"grid":false,"title":null,"labelAlign":"left","labelBaseline":"alphabetic","labelOffset":1,"labelPadding":14,"labelFontSize":10.5,"labelColor":"black","labelOverlap":false,"labelBound":false,"labelFlush":false,"zindex":1,"offset":0}}}},
{"data":{"values":[{}]},"mark":{"type":"text","text":"h","align":"left","baseline":"alphabetic","fontSize":18,"fontWeight":"bold","color":"black"},"encoding":{"x":{"datum":-2.85,"type":"quantitative","axis":null},"y":{"datum":7.5,"type":"quantitative","axis":null}}},
{"data":{"name":"dots"},"transform":[{"filter":"datum.p=='h'"}],"mark":{"type":"point","shape":"circle","filled":true,"size":36,"color":"black","opacity":1},"encoding":{"x":{"field":"s","type":"quantitative","axis":{"orient":"bottom","values":[0.5,2.5,4.5,6.5,8.5,10.5,12.5,14.5,16.5,18.5,20,21,22,23,24],"labelExpr":"datum.value<19.9?''+(datum.value+1.5)/2:''+(datum.value-9)","ticks":false,"domain":false,"grid":false,"labelPadding":5,"labelFontSize":14,"labelColor":"black","labelOverlap":false,"labelFlush":false,"labelBound":false,"labelBaseline":"top","title":"#","titleAngle":0,"titleX":-7,"titleY":13,"titleAlign":"right","titleBaseline":"middle","titleFontSize":13,"titleFontWeight":"normal","titleColor":"black","offset":0}},"y":{"field":"v","type":"quantitative","axis":{"orient":"left","title":"cytosol (µM)","values":[0.001,0.01,0.1,1,10],"labelExpr":"'10'","grid":false,"domain":true,"domainColor":"black","domainWidth":2,"tickColor":"black","tickWidth":1.2,"tickSize":6,"labelFontSize":16,"labelColor":"black","labelPadding":8,"labelOverlap":false,"labelBound":false,"labelFlush":false,"titleFontSize":17,"titleFontWeight":"normal","titleColor":"black","titlePadding":2,"zindex":1,"offset":0}}}},
{"data":{"name":"means"},"transform":[{"filter":"datum.p=='h'"}],"mark":{"type":"tick","orient":"horizontal","size":12,"thickness":2,"color":"black"},"encoding":{"x":{"field":"s","type":"quantitative","axis":{"orient":"bottom","values":[0,1,2,3,4,5,6,7,8,9,10,11,12,13,14,15,16,17,18,19,20,21,22,23,24],"labelExpr":"['0.2','1.0','1.0','5.0','1.0','5.0','0.2','1.0','0.2','1.0','0.2','1.0','0.2','1.0','0.2','1.0','0.2','1.0','1.0','5.0','0.2','0.2','0.2','0.2','0.2'][round(datum.value)]","ticks":false,"domain":false,"grid":false,"labelAngle":90,"labelAlign":"left","labelBaseline":"middle","labelPadding":21,"labelFontSize":13.5,"labelColor":"black","labelOverlap":false,"labelFlush":false,"labelBound":false,"title":"µM","titleAngle":0,"titleX":-7,"titleY":31,"titleAlign":"right","titleBaseline":"middle","titleFontSize":13,"titleFontWeight":"normal","titleColor":"black","offset":0}},"y":{"field":"m","type":"quantitative","axis":{"orient":"left","values":[0.002,0.003,0.004,0.005,0.006,0.007,0.008,0.009,0.02,0.03,0.04,0.05,0.06,0.07,0.08,0.09,0.2,0.3,0.4,0.5,0.6,0.7,0.8,0.9,2,3,4,5,6,7,8,9],"labels":false,"domain":false,"grid":false,"title":null,"tickColor":"black","tickWidth":1,"tickSize":3,"zindex":1,"offset":0}}}}
]},
{"width":475,"height":225,"resolve":{"axis":{"x":"independent","y":"independent"}},
"layer":[
{"data":{"name":"bg"},"mark":{"type":"rect"},"encoding":{"x":{"field":"x0","type":"quantitative","scale":{"domain":[-0.5,24.5],"nice":false,"zero":false},"axis":{"orient":"bottom","values":[1.5,3.5,5.5,7.5,9.5,11.5,13.5,15.5,17.5,19.5,20.5,21.5,22.5,23.5],"labels":false,"ticks":true,"tickSize":46,"tickWidth":1.5,"tickColor":"black","domain":true,"domainColor":"black","domainWidth":2,"grid":false,"title":null,"offset":0,"zindex":1}},"x2":{"field":"x1"},"color":{"field":"g","type":"nominal","scale":{"domain":["A","B","C"],"range":["#d6e8d5","#f5afb5","#d3e9f7"]},"legend":null}}},
{"data":{"values":[{}]},"mark":{"type":"text","text":"SKBR3","align":"left","baseline":"alphabetic","fontSize":15.5,"lineHeight":20,"color":"black"},"encoding":{"x":{"datum":0.42,"type":"quantitative","axis":null},"y":{"datum":36,"type":"quantitative","scale":{"type":"log","domain":[0.001,100],"nice":false},"axis":{"orient":"left","values":[0.001,0.01,0.1,1,10,100],"labelExpr":"datum.value==100?'2':datum.value==10?'1':datum.value==1?'0':datum.value==0.1?'-1':datum.value==0.01?'-2':'-3'","ticks":false,"domain":false,"grid":false,"title":null,"labelAlign":"left","labelBaseline":"alphabetic","labelOffset":1,"labelPadding":14,"labelFontSize":10.5,"labelColor":"black","labelOverlap":false,"labelBound":false,"labelFlush":false,"zindex":1,"offset":0}}}},
{"data":{"values":[{}]},"mark":{"type":"text","text":"i","align":"left","baseline":"alphabetic","fontSize":18,"fontWeight":"bold","color":"black"},"encoding":{"x":{"datum":-3.05,"type":"quantitative","axis":null},"y":{"datum":70,"type":"quantitative","axis":null}}},
{"data":{"name":"dots"},"transform":[{"filter":"datum.p=='i'"}],"mark":{"type":"point","shape":"circle","filled":true,"size":36,"color":"black","opacity":1},"encoding":{"x":{"field":"s","type":"quantitative","axis":{"orient":"bottom","values":[0.5,2.5,4.5,6.5,8.5,10.5,12.5,14.5,16.5,18.5,20,21,22,23,24],"labelExpr":"datum.value<19.9?''+(datum.value+1.5)/2:''+(datum.value-9)","ticks":false,"domain":false,"grid":false,"labelPadding":5,"labelFontSize":14,"labelColor":"black","labelOverlap":false,"labelFlush":false,"labelBound":false,"labelBaseline":"top","title":"#","titleAngle":0,"titleX":-7,"titleY":13,"titleAlign":"right","titleBaseline":"middle","titleFontSize":13,"titleFontWeight":"normal","titleColor":"black","offset":0}},"y":{"field":"v","type":"quantitative","axis":{"orient":"left","title":"total cell (µM)","values":[0.001,0.01,0.1,1,10,100],"labelExpr":"'10'","grid":false,"domain":true,"domainColor":"black","domainWidth":2,"tickColor":"black","tickWidth":1.2,"tickSize":6,"labelFontSize":16,"labelColor":"black","labelPadding":8,"labelOverlap":false,"labelBound":false,"labelFlush":false,"titleFontSize":17,"titleFontWeight":"normal","titleColor":"black","titlePadding":2,"zindex":1,"offset":0}}}},
{"data":{"name":"means"},"transform":[{"filter":"datum.p=='i'"}],"mark":{"type":"tick","orient":"horizontal","size":12,"thickness":2,"color":"black"},"encoding":{"x":{"field":"s","type":"quantitative","axis":{"orient":"bottom","values":[0,1,2,3,4,5,6,7,8,9,10,11,12,13,14,15,16,17,18,19,20,21,22,23,24],"labelExpr":"['0.2','1.0','1.0','5.0','1.0','5.0','0.2','1.0','0.2','1.0','0.2','1.0','0.2','1.0','0.2','1.0','0.2','1.0','1.0','5.0','0.2','0.2','0.2','0.2','0.2'][round(datum.value)]","ticks":false,"domain":false,"grid":false,"labelAngle":90,"labelAlign":"left","labelBaseline":"middle","labelPadding":21,"labelFontSize":13.5,"labelColor":"black","labelOverlap":false,"labelFlush":false,"labelBound":false,"title":"µM","titleAngle":0,"titleX":-7,"titleY":31,"titleAlign":"right","titleBaseline":"middle","titleFontSize":13,"titleFontWeight":"normal","titleColor":"black","offset":0}},"y":{"field":"m","type":"quantitative","axis":{"orient":"left","values":[0.002,0.003,0.004,0.005,0.006,0.007,0.008,0.009,0.02,0.03,0.04,0.05,0.06,0.07,0.08,0.09,0.2,0.3,0.4,0.5,0.6,0.7,0.8,0.9,2,3,4,5,6,7,8,9,20,30,40,50,60,70,80,90],"labels":false,"domain":false,"grid":false,"title":null,"tickColor":"black","tickWidth":1,"tickSize":3,"zindex":1,"offset":0}}}}
]},
{"width":475,"height":225,"resolve":{"axis":{"x":"independent","y":"independent"}},
"layer":[
{"data":{"name":"bg"},"mark":{"type":"rect"},"encoding":{"x":{"field":"x0","type":"quantitative","scale":{"domain":[-0.5,24.5],"nice":false,"zero":false},"axis":{"orient":"bottom","values":[1.5,3.5,5.5,7.5,9.5,11.5,13.5,15.5,17.5,19.5,20.5,21.5,22.5,23.5],"labels":false,"ticks":true,"tickSize":46,"tickWidth":1.5,"tickColor":"black","domain":true,"domainColor":"black","domainWidth":2,"grid":false,"title":null,"offset":0,"zindex":1}},"x2":{"field":"x1"},"color":{"field":"g","type":"nominal","scale":{"domain":["A","B","C"],"range":["#d6e8d5","#f5afb5","#d3e9f7"]},"legend":null}}},
{"data":{"values":[{}]},"mark":{"type":"text","text":"SKBR3","align":"left","baseline":"alphabetic","fontSize":15.5,"lineHeight":20,"color":"black"},"encoding":{"x":{"datum":0.42,"type":"quantitative","axis":null},"y":{"datum":4.5,"type":"quantitative","scale":{"type":"log","domain":[0.001,10],"nice":false},"axis":{"orient":"left","values":[0.001,0.01,0.1,1,10],"labelExpr":"datum.value==100?'2':datum.value==10?'1':datum.value==1?'0':datum.value==0.1?'-1':datum.value==0.01?'-2':'-3'","ticks":false,"domain":false,"grid":false,"title":null,"labelAlign":"left","labelBaseline":"alphabetic","labelOffset":1,"labelPadding":14,"labelFontSize":10.5,"labelColor":"black","labelOverlap":false,"labelBound":false,"labelFlush":false,"zindex":1,"offset":0}}}},
{"data":{"values":[{}]},"mark":{"type":"text","text":"j","align":"left","baseline":"alphabetic","fontSize":18,"fontWeight":"bold","color":"black"},"encoding":{"x":{"datum":-2.85,"type":"quantitative","axis":null},"y":{"datum":7.5,"type":"quantitative","axis":null}}},
{"data":{"name":"dots"},"transform":[{"filter":"datum.p=='j'"}],"mark":{"type":"point","shape":"circle","filled":true,"size":36,"color":"black","opacity":1},"encoding":{"x":{"field":"s","type":"quantitative","axis":{"orient":"bottom","values":[0.5,2.5,4.5,6.5,8.5,10.5,12.5,14.5,16.5,18.5,20,21,22,23,24],"labelExpr":"datum.value<19.9?''+(datum.value+1.5)/2:''+(datum.value-9)","ticks":false,"domain":false,"grid":false,"labelPadding":5,"labelFontSize":14,"labelColor":"black","labelOverlap":false,"labelFlush":false,"labelBound":false,"labelBaseline":"top","title":"#","titleAngle":0,"titleX":-7,"titleY":13,"titleAlign":"right","titleBaseline":"middle","titleFontSize":13,"titleFontWeight":"normal","titleColor":"black","offset":0}},"y":{"field":"v","type":"quantitative","axis":{"orient":"left","title":"cytosol (µM)","values":[0.001,0.01,0.1,1,10],"labelExpr":"'10'","grid":false,"domain":true,"domainColor":"black","domainWidth":2,"tickColor":"black","tickWidth":1.2,"tickSize":6,"labelFontSize":16,"labelColor":"black","labelPadding":8,"labelOverlap":false,"labelBound":false,"labelFlush":false,"titleFontSize":17,"titleFontWeight":"normal","titleColor":"black","titlePadding":2,"zindex":1,"offset":0}}}},
{"data":{"name":"means"},"transform":[{"filter":"datum.p=='j'"}],"mark":{"type":"tick","orient":"horizontal","size":12,"thickness":2,"color":"black"},"encoding":{"x":{"field":"s","type":"quantitative","axis":{"orient":"bottom","values":[0,1,2,3,4,5,6,7,8,9,10,11,12,13,14,15,16,17,18,19,20,21,22,23,24],"labelExpr":"['0.2','1.0','1.0','5.0','1.0','5.0','0.2','1.0','0.2','1.0','0.2','1.0','0.2','1.0','0.2','1.0','0.2','1.0','1.0','5.0','0.2','0.2','0.2','0.2','0.2'][round(datum.value)]","ticks":false,"domain":false,"grid":false,"labelAngle":90,"labelAlign":"left","labelBaseline":"middle","labelPadding":21,"labelFontSize":13.5,"labelColor":"black","labelOverlap":false,"labelFlush":false,"labelBound":false,"title":"µM","titleAngle":0,"titleX":-7,"titleY":31,"titleAlign":"right","titleBaseline":"middle","titleFontSize":13,"titleFontWeight":"normal","titleColor":"black","offset":0}},"y":{"field":"m","type":"quantitative","axis":{"orient":"left","values":[0.002,0.003,0.004,0.005,0.006,0.007,0.008,0.009,0.02,0.03,0.04,0.05,0.06,0.07,0.08,0.09,0.2,0.3,0.4,0.5,0.6,0.7,0.8,0.9,2,3,4,5,6,7,8,9],"labels":false,"domain":false,"grid":false,"title":null,"tickColor":"black","tickWidth":1,"tickSize":3,"zindex":1,"offset":0}}}}
]}
]
}
